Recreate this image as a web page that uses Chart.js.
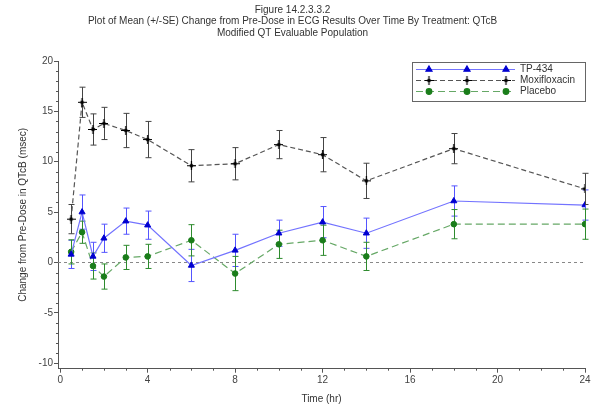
<!DOCTYPE html>
<html>
<head>
<meta charset="utf-8">
<script src="https://cdn.jsdelivr.net/npm/chart.js@4/dist/chart.umd.min.js"></script>
<style>
  html, body { margin: 0; padding: 0; background: #fff; }
  #grafico { display: block; }
</style>
</head>
<body>
<canvas id="grafico" width="593" height="407"></canvas>
<script>
// Dados (horas apos a dose, media e erro padrao)
const tempos = [0.5, 1, 1.5, 2, 3, 4, 6, 8, 10, 12, 14, 18, 24];
const tp434 = [0.8, 5.0, 0.6, 2.4, 4.1, 3.7, -0.3, 1.2, 2.9, 4.0, 2.9, 6.1, 5.7];
const tp434Se = [1.4, 1.7, 1.4, 1.4, 1.3, 1.4, 1.6, 1.6, 1.3, 1.55, 1.5, 1.5, 1.5];
const moxi = [4.3, 15.9, 13.2, 13.8, 13.1, 12.2, 9.6, 9.8, 11.7, 10.7, 8.1, 11.3, 7.3];
const moxiSe = [1.45, 1.5, 1.55, 1.6, 1.7, 1.8, 1.6, 1.6, 1.4, 1.7, 1.75, 1.5, 1.55];
const placebo = [1.05, 3.0, -0.35, -1.4, 0.5, 0.6, 2.2, -1.1, 1.8, 2.2, 0.6, 3.8, 3.8];
const placeboSe = [1.2, 1.1, 1.3, 1.25, 1.2, 1.2, 1.55, 1.7, 1.4, 1.5, 1.4, 1.45, 1.5];

const xTicks = [0, 4, 8, 12, 16, 20, 24];
const yTicks = [-10, -5, 0, 5, 10, 15, 20];

const fonte = '"Liberation Sans", Arial, sans-serif';

// marcador da moxifloxacina: cruz com losango preenchido
const cruz = document.createElement('canvas');
cruz.width = 9; cruz.height = 9;
(function () {
  const c = cruz.getContext('2d');
  c.fillStyle = '#000';
  c.beginPath();
  c.moveTo(4.5, 2); c.lineTo(7, 4.5); c.lineTo(4.5, 7); c.lineTo(2, 4.5);
  c.closePath(); c.fill();
  c.strokeStyle = '#000'; c.lineWidth = 1.2;
  c.beginPath();
  c.moveTo(4.5, 0); c.lineTo(4.5, 9);
  c.moveTo(0, 4.5); c.lineTo(9, 4.5);
  c.stroke();
})();

function pontos(ys) {
  return tempos.map((t, i) => ({ x: t, y: ys[i] }));
}

const series = [
  { label: 'TP-434', ys: tp434, se: tp434Se, linha: '#7373ff', marca: '#0000d0', barra: '#5555ff',
    estilo: 'triangle', raio: 3.5, dash: [] },
  { label: 'Moxifloxacin', ys: moxi, se: moxiSe, linha: '#555555', marca: '#000000', barra: '#444444',
    estilo: cruz, raio: 4, dash: [5, 3] },
  { label: 'Placebo', ys: placebo, se: placeboSe, linha: '#66a866', marca: '#1a7d1a', barra: '#2e8b2e',
    estilo: 'circle', raio: 2.8, dash: [7, 4] }
];

const dados = {
  datasets: series.map(s => ({
    label: s.label,
    data: pontos(s.ys),
    borderColor: s.linha,
    borderWidth: 1.2,
    borderDash: s.dash,
    backgroundColor: s.marca,
    pointStyle: s.estilo,
    pointRadius: s.raio,
    pointBorderColor: s.marca,
    pointBackgroundColor: s.marca,
    pointBorderWidth: 1,
    tension: 0
  }))
};

// barras de erro, linha zero, tracos menores e legenda
const extras = {
  id: 'extras',
  beforeDatasetsDraw(chart) {
    const { ctx, scales: { x, y }, chartArea } = chart;
    ctx.save();
    // linha de referencia em zero
    ctx.strokeStyle = '#888';
    ctx.lineWidth = 1;
    ctx.setLineDash([3, 3]);
    const y0 = Math.round(y.getPixelForValue(0)) + 0.5;
    ctx.beginPath();
    ctx.moveTo(chartArea.left, y0);
    ctx.lineTo(chartArea.right, y0);
    ctx.stroke();
    ctx.setLineDash([]);
    // barras de erro
    series.forEach(s => {
      ctx.strokeStyle = s.barra;
      ctx.lineWidth = 1;
      tempos.forEach((t, i) => {
        const px = Math.round(x.getPixelForValue(t)) + 0.5;
        const yt = y.getPixelForValue(s.ys[i] + s.se[i]);
        const yb = y.getPixelForValue(s.ys[i] - s.se[i]);
        ctx.beginPath();
        ctx.moveTo(px, yt); ctx.lineTo(px, yb);
        ctx.moveTo(px - 3, yt); ctx.lineTo(px + 3, yt);
        ctx.moveTo(px - 3, yb); ctx.lineTo(px + 3, yb);
        ctx.stroke();
      });
    });
    // tracos menores
    ctx.strokeStyle = '#555';
    ctx.beginPath();
    for (let v = -10; v <= 20; v++) {
      if (v % 5 === 0) continue;
      const py = Math.round(y.getPixelForValue(v)) + 0.5;
      ctx.moveTo(chartArea.left - 2, py); ctx.lineTo(chartArea.left, py);
    }
    for (let h = 0; h <= 24; h++) {
      if (h % 4 === 0) continue;
      const px = Math.round(x.getPixelForValue(h)) + 0.5;
      ctx.moveTo(px, chartArea.bottom); ctx.lineTo(px, chartArea.bottom + 2);
    }
    ctx.stroke();
    ctx.restore();
  },
  afterDraw(chart) {
    const { ctx } = chart;
    ctx.save();
    // caixa da legenda
    ctx.fillStyle = '#fff';
    ctx.fillRect(412, 62, 173, 39);
    ctx.strokeStyle = '#666';
    ctx.lineWidth = 1;
    ctx.strokeRect(412.5, 62.5, 173, 39);
    const linhasY = [69.5, 80.5, 91.5];
    series.forEach((s, i) => {
      const ly = linhasY[i];
      ctx.strokeStyle = s.linha;
      ctx.lineWidth = 1.2;
      ctx.setLineDash(s.dash);
      ctx.beginPath();
      ctx.moveTo(416, ly); ctx.lineTo(515, ly);
      ctx.stroke();
      ctx.setLineDash([]);
      ctx.fillStyle = s.marca;
      ctx.strokeStyle = s.marca;
      [429, 467, 506].forEach(mx => {
        Chart.helpers.drawPoint(ctx, { pointStyle: s.estilo, radius: s.raio, rotation: 0, borderWidth: 1 }, mx, ly);
      });
      ctx.fillStyle = '#333';
      ctx.font = '10px ' + fonte;
      ctx.textBaseline = 'middle';
      ctx.textAlign = 'left';
      ctx.fillText(s.label, 520, ly);
    });
    ctx.restore();
  }
};

const config = {
  type: 'line',
  data: dados,
  plugins: [extras],
  options: {
    responsive: false,
    animation: false,
    maintainAspectRatio: false,
    layout: { padding: { left: 0, right: 8, top: 0, bottom: 0 } },
    scales: {
      x: {
        type: 'linear',
        min: -0.1,
        max: 24,
        afterBuildTicks: ax => { ax.ticks = xTicks.map(v => ({ value: v })); },
        afterFit: ax => { ax.height = 38.3; },
        ticks: { color: '#444', font: { family: fonte, size: 10 }, padding: 2, maxRotation: 0 },
        grid: { drawOnChartArea: false, tickLength: 4, color: '#555' },
        border: { color: '#555' },
        title: { display: true, text: 'Time (hr)', color: '#333', font: { family: fonte, size: 10 }, padding: { top: 2, bottom: 2 } }
      },
      y: {
        type: 'linear',
        min: -10.55,
        max: 20,
        afterBuildTicks: ax => { ax.ticks = yTicks.map(v => ({ value: v })); },
        afterFit: ax => { ax.width = 58; },
        ticks: { color: '#444', font: { family: fonte, size: 10 }, padding: 1 },
        grid: { drawOnChartArea: false, tickLength: 4, color: '#555' },
        border: { color: '#555' },
        title: { display: true, text: 'Change from Pre-Dose in QTcB (msec)', color: '#333', font: { family: fonte, size: 10 }, padding: { top: 17, bottom: 4 } }
      }
    },
    plugins: {
      legend: { display: false },
      tooltip: { enabled: false },
      title: {
        display: true,
        text: ['Figure 14.2.3.3.2',
               'Plot of Mean (+/-SE) Change from Pre-Dose in ECG Results Over Time By Treatment: QTcB',
               'Modified QT Evaluable Population'],
        color: '#333',
        font: { family: fonte, size: 10, weight: 'normal', lineHeight: 1.15 },
        padding: { top: 4, bottom: 22.5 }
      }
    }
  }
};

const grafico = new Chart(document.getElementById('grafico').getContext('2d'), config);
</script>
</body>
</html>
